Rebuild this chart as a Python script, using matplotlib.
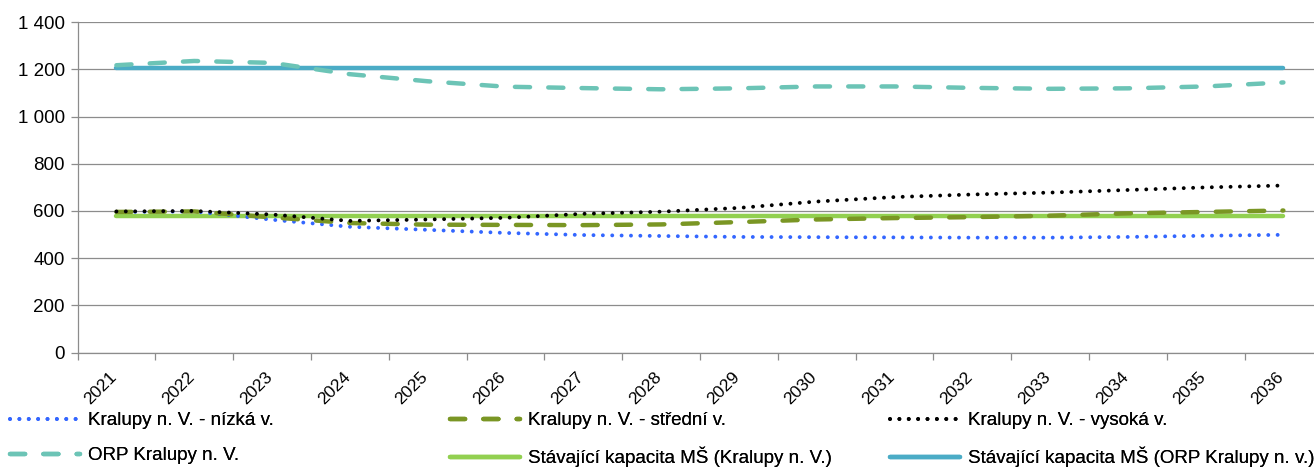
"""
plot.py

Projekce počtu dětí v MŠ (Kralupy n. V. a ORP) vs. stávající kapacita, 2021–2036.
Saves out.png (1314x468).
"""

import matplotlib
matplotlib.use("Agg")
import matplotlib.pyplot as plt
import matplotlib.transforms as mtransforms
from matplotlib.ticker import FuncFormatter, MultipleLocator

# ── Data ───────────────────────────────────────────────────────────────────────
YEARS = [2021, 2022, 2023, 2024, 2025, 2026, 2027, 2028,
         2029, 2030, 2031, 2032, 2033, 2034, 2035, 2036]

LOW  = [596, 598, 563, 533, 520, 507, 498, 494, 490, 489, 488, 487, 487, 490, 495, 499]
MID  = [596, 598, 573, 549, 542, 541, 540, 543, 553, 564, 570, 574, 580, 590, 596, 602]
HIGH = [598, 600, 585, 558, 564, 571, 588, 597, 613, 640, 659, 670, 678, 689, 700, 708]
ORP  = [1218, 1236, 1228, 1180, 1150, 1127, 1121, 1116,
        1120, 1128, 1128, 1122, 1118, 1120, 1128, 1145]

CAP_KRALUPY = 580
CAP_ORP     = 1208

LABELS = [
    "Kralupy n. V. - nízká v.",
    "Kralupy n. V. - střední v.",
    "Kralupy n. V. - vysoká v.",
    "ORP Kralupy n. V.",
    "Stávající kapacita MŠ (Kralupy n. V.)",
    "Stávající kapacita MŠ (ORP Kralupy n. v.)",
]

# ── Style ──────────────────────────────────────────────────────────────────────
plt.rcParams["font.family"] = ["Liberation Sans Narrow", "Liberation Sans", "DejaVu Sans"]
plt.rcParams["font.size"]   = 13.5

GRID_GREY = "#8C8C8C"
C_LOW     = "#3366FF"
C_MID     = "#7A9624"
C_HIGH    = "#000000"
C_ORP     = "#6CC4B6"
C_CAP_K   = "#92D050"
C_CAP_O   = "#4BACC6"

DOT  = dict(lw=2.8, dashes=(0.01, 2.4), dash_capstyle="round")
DASH = dict(lw=3.2, dashes=(3.4, 4.1), dash_capstyle="round")

W, H, DPI = 1314, 468, 100


def _thousands(v, _pos):
    return f"{int(v):,}".replace(",", " ")


def main():
    fig = plt.figure(figsize=(W / DPI, H / DPI), dpi=DPI)
    # plot area in pixels: left 77.5, bottom 352.5, top 22.3, right clipped at image edge
    ax = fig.add_axes([77.5 / W, (H - 352.5) / H, 1 - 77.5 / W, (352.5 - 22.3) / H])

    x = list(range(len(YEARS)))
    cap_k = [CAP_KRALUPY] * len(YEARS)
    cap_o = [CAP_ORP] * len(YEARS)

    h_low,  = ax.plot(x, LOW,  color=C_LOW,  zorder=3, **DOT)
    h_mid,  = ax.plot(x, MID,  color=C_MID,  zorder=3, **DASH)
    h_high, = ax.plot(x, HIGH, color=C_HIGH, zorder=3, **DOT)
    h_orp,  = ax.plot(x, ORP,  color=C_ORP,  zorder=3, **DASH)
    h_capk, = ax.plot(x, cap_k, color=C_CAP_K, lw=3.2, solid_capstyle="round", zorder=2)
    h_capo, = ax.plot(x, cap_o, color=C_CAP_O, lw=3.2, solid_capstyle="round", zorder=2)

    # axes
    ax.set_xlim(-0.5, -0.5 + (W - 77.5) / 77.8)
    ax.set_ylim(0, 1400)
    ax.yaxis.set_major_locator(MultipleLocator(200))
    ax.yaxis.set_major_formatter(FuncFormatter(_thousands))
    ax.grid(axis="y", color=GRID_GREY, lw=0.9, zorder=0)
    ax.set_axisbelow(True)

    for side in ("top", "right"):
        ax.spines[side].set_visible(False)
    for side in ("left", "bottom"):
        ax.spines[side].set_color(GRID_GREY)
        ax.spines[side].set_linewidth(0.9)

    ax.tick_params(axis="y", length=5, width=0.9, color=GRID_GREY, pad=4,
                   labelsize=13.5)

    # category labels at centres, tick marks at boundaries
    ax.set_xticks(x)
    ax.set_xticklabels([str(y) for y in YEARS], rotation=45, ha="right",
                       va="center", rotation_mode="anchor")
    ax.set_xticks([i - 0.5 for i in x], minor=True)
    ax.tick_params(axis="x", which="major", length=0, pad=16, labelsize=12.5)
    ax.tick_params(axis="x", which="minor", length=5, width=0.9, color=GRID_GREY)
    shift = mtransforms.ScaledTranslation(-2 / DPI, 0, fig.dpi_scale_trans)
    for lbl in ax.get_xticklabels():
        lbl.set_transform(lbl.get_transform() + shift)

    # legend: three columns, two rows, placed under the category labels
    cols = [(h_low, h_orp), (h_mid, h_capk), (h_high, h_capo)]
    col_labels = [(LABELS[0], LABELS[3]), (LABELS[1], LABELS[4]), (LABELS[2], LABELS[5])]
    for i, (handles, labels) in enumerate(zip(cols, col_labels)):
        leg = fig.legend(handles, labels, loc="upper left",
                         bbox_to_anchor=((10 + 440 * i) / W, (H - 412) / H),
                         frameon=False, borderpad=0, borderaxespad=0,
                         handlelength=3.75, handletextpad=0.4,
                         labelspacing=0.95, fontsize=13.5)
        fig.add_artist(leg)

    fig.savefig("out.png", dpi=DPI)
    plt.close(fig)


if __name__ == "__main__":
    main()
